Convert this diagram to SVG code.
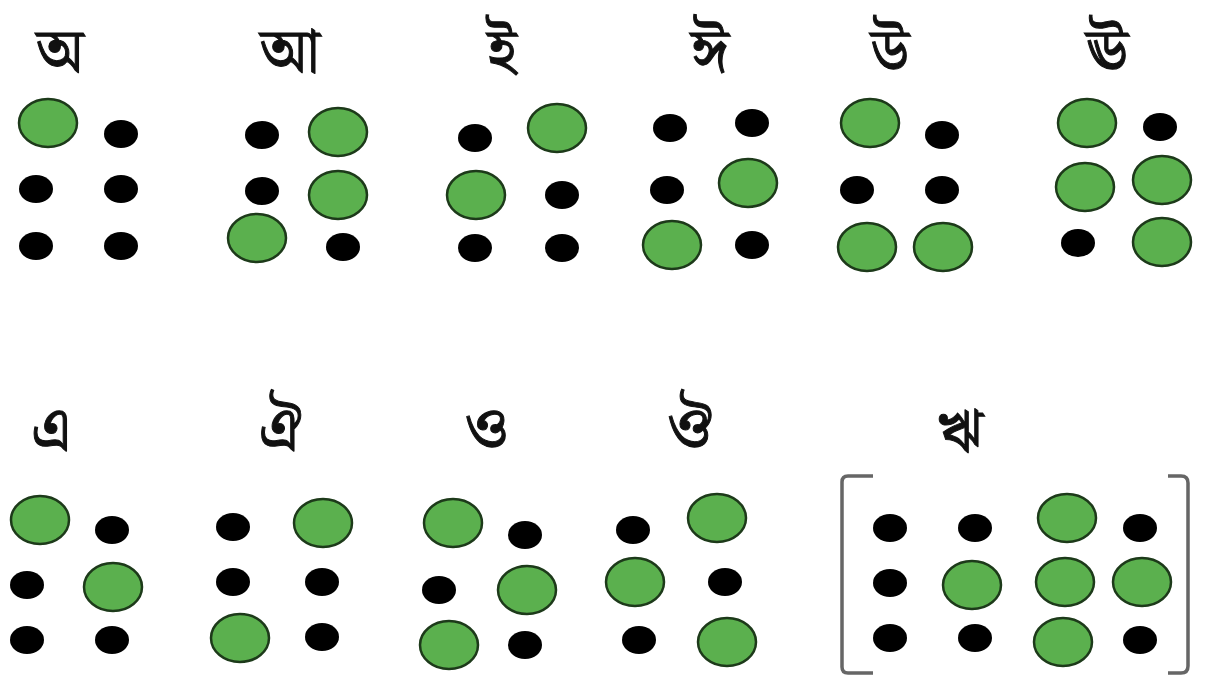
<svg xmlns="http://www.w3.org/2000/svg" width="1208" height="681" viewBox="0 0 1208 681">
<defs>
<style>
.g{fill:#5bb04e;stroke:#1d3a1a;stroke-width:2.5}
.b{fill:#000}
.t{font-family:"Noto Serif Bengali","Noto Sans Bengali","Lohit Bengali","FreeSerif","Noto Sans",sans-serif;font-size:62px;fill:#111;stroke:#111;stroke-width:1;text-anchor:middle}
.br{fill:none;stroke:#666;stroke-width:3.5;stroke-linejoin:round}
</style>
<ellipse id="G" class="g" cx="0" cy="0" rx="29" ry="24"/>
<ellipse id="B" class="b" cx="0" cy="0" rx="17" ry="14"/>
</defs>
<rect width="1208" height="681" fill="#fff"/>
<g id="cell-a">
<text class="t" x="60" y="72">অ</text>
<use href="#G" x="48" y="123"/><use href="#B" x="121" y="134"/>
<use href="#B" x="36" y="189"/><use href="#B" x="121" y="189"/>
<use href="#B" x="36" y="246"/><use href="#B" x="121" y="246"/>
</g>
<g id="cell-aa">
<text class="t" x="290" y="72">আ</text>
<use href="#B" x="262" y="135"/><use href="#G" x="338" y="132"/>
<use href="#B" x="262" y="191"/><use href="#G" x="338" y="195"/>
<use href="#G" x="257" y="238"/><use href="#B" x="343" y="247"/>
</g>
<g id="cell-i">
<text class="t" x="502" y="72">ই</text>
<use href="#B" x="475" y="138"/><use href="#G" x="557" y="128"/>
<use href="#G" x="476" y="195"/><use href="#B" x="562" y="195"/>
<use href="#B" x="475" y="248"/><use href="#B" x="562" y="248"/>
</g>
<g id="cell-ii">
<text class="t" x="710" y="72">ঈ</text>
<use href="#B" x="670" y="128"/><use href="#B" x="752" y="123"/>
<use href="#B" x="667" y="190"/><use href="#G" x="748" y="183"/>
<use href="#G" x="672" y="245"/><use href="#B" x="752" y="245"/>
</g>
<g id="cell-u">
<text class="t" x="890" y="72">উ</text>
<use href="#G" x="870" y="123"/><use href="#B" x="942" y="135"/>
<use href="#B" x="857" y="190"/><use href="#B" x="942" y="190"/>
<use href="#G" x="867" y="247"/><use href="#G" x="943" y="247"/>
</g>
<g id="cell-uu">
<text class="t" x="1107" y="72">ঊ</text>
<use href="#G" x="1087" y="123"/><use href="#B" x="1160" y="127"/>
<use href="#G" x="1085" y="187"/><use href="#G" x="1162" y="180"/>
<use href="#B" x="1078" y="243"/><use href="#G" x="1162" y="242"/>
</g>
<g id="cell-e">
<text class="t" x="51" y="450">এ</text>
<use href="#G" x="40" y="520"/><use href="#B" x="112" y="530"/>
<use href="#B" x="27" y="585"/><use href="#G" x="113" y="587"/>
<use href="#B" x="27" y="640"/><use href="#B" x="112" y="640"/>
</g>
<g id="cell-oi">
<text class="t" x="282" y="450">ঐ</text>
<use href="#B" x="233" y="527"/><use href="#G" x="323" y="523"/>
<use href="#B" x="233" y="582"/><use href="#B" x="322" y="582"/>
<use href="#G" x="240" y="638"/><use href="#B" x="322" y="637"/>
</g>
<g id="cell-o">
<text class="t" x="487" y="450">ও</text>
<use href="#G" x="453" y="523"/><use href="#B" x="525" y="535"/>
<use href="#B" x="439" y="590"/><use href="#G" x="527" y="590"/>
<use href="#G" x="449" y="645"/><use href="#B" x="525" y="645"/>
</g>
<g id="cell-ou">
<text class="t" x="692" y="450">ঔ</text>
<use href="#B" x="633" y="530"/><use href="#G" x="717" y="518"/>
<use href="#G" x="635" y="582"/><use href="#B" x="725" y="582"/>
<use href="#B" x="639" y="640"/><use href="#G" x="727" y="642"/>
</g>
<g id="cell-ri">
<text class="t" x="960" y="452">ঋ</text>
<path class="br" d="M873,476 H848 Q842,476 842,482 V667 Q842,673 848,673 H873"/>
<path class="br" d="M1168,476 H1181 Q1188,476 1188,483 V666 Q1188,673 1181,673 H1168"/>
<use href="#B" x="890" y="528"/><use href="#B" x="975" y="528"/>
<use href="#G" x="1067" y="518"/><use href="#B" x="1140" y="528"/>
<use href="#B" x="890" y="583"/><use href="#G" x="972" y="585"/>
<use href="#G" x="1065" y="582"/><use href="#G" x="1142" y="582"/>
<use href="#B" x="890" y="638"/><use href="#B" x="975" y="638"/>
<use href="#G" x="1063" y="642"/><use href="#B" x="1140" y="640"/>
</g>
</svg>
